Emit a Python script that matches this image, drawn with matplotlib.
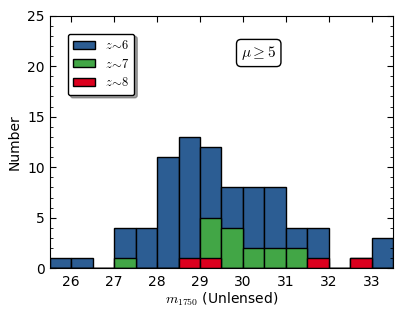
import numpy as np
import matplotlib
matplotlib.use("Agg")
import matplotlib.pyplot as plt
from matplotlib.ticker import MultipleLocator

#-------------------#
# Style
#-------------------#
plt.rc('mathtext', fontset='cm')
plt.rc('font', size=10)

#-------------------#
# Data
#-------------------#
bin_edges = np.arange(25.5, 33.51, 0.5)
n_z6 = [1, 1, 0, 4, 4, 11, 13, 12, 8, 8, 8, 4, 4, 0, 1, 3]
n_z7 = [0, 0, 0, 1, 0, 0, 0, 5, 4, 2, 2, 2, 0, 0, 0, 0]
n_z8 = [0, 0, 0, 0, 0, 0, 1, 1, 0, 0, 0, 0, 1, 0, 1, 0]

c6 = "#2c5d93"
c7 = "#42a646"
c8 = "#dc001e"

#-------------------#
# Plot
#-------------------#
fig = plt.figure(figsize=(4.15, 3.12), dpi=100)
ax = fig.add_axes([0.12, 0.14, 0.827, 0.81])

left = bin_edges[:-1]
w = np.diff(bin_edges)
ax.bar(left, n_z6, width=w, align='edge', color=c6, edgecolor='k', lw=1, label=r"$z\!\sim\!6$")
ax.bar(left, n_z7, width=w, align='edge', color=c7, edgecolor='k', lw=1, label=r"$z\!\sim\!7$")
ax.bar(left, n_z8, width=w, align='edge', color=c8, edgecolor='k', lw=1, label=r"$z\!\sim\!8$")

ax.set_xlim(25.5, 33.5)
ax.set_ylim(0, 25)
ax.xaxis.set_major_locator(MultipleLocator(1))
ax.yaxis.set_major_locator(MultipleLocator(5))
ax.yaxis.set_minor_locator(MultipleLocator(1))
ax.tick_params(which='both', direction='in', top=True, right=True)
ax.tick_params(which='major', length=4)
ax.tick_params(which='minor', length=2)
ax.tick_params(axis='x', pad=5)

ax.set_xlabel(r"$m_{1750}$ (Unlensed)", labelpad=1)
ax.set_ylabel("Number")

leg = ax.legend(loc='upper left', fontsize=9, shadow=True, fancybox=True,
                handlelength=1.7, handleheight=0.6, handletextpad=0.8,
                borderpad=0.45, labelspacing=0.45, borderaxespad=0,
                bbox_to_anchor=(0.052, 0.929))
leg.get_frame().set_edgecolor('k')

ax.text(30.37, 21.3, r"$\mu \geq 5$", fontsize=11, ha='center', va='center',
        bbox=dict(boxstyle='round,pad=0.3', fc='w', ec='k'))

fig.savefig("out.png", dpi=100)
